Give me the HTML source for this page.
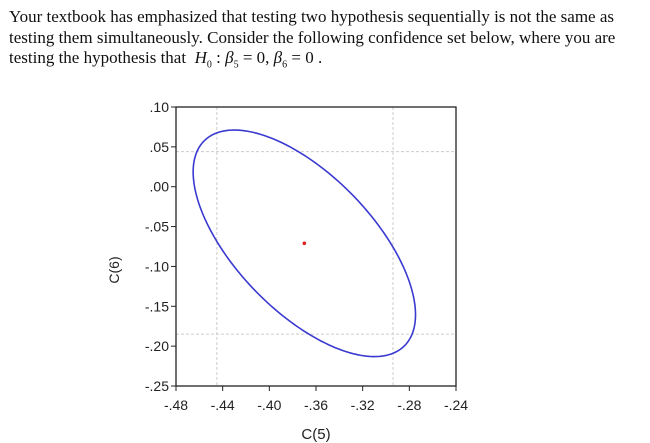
<!DOCTYPE html>
<html><head><meta charset="utf-8">
<style>
body{margin:0;background:#fff;width:650px;height:443px;overflow:hidden;position:relative}
.txt{position:absolute;left:9px;top:7px;font-family:"Liberation Serif",serif;font-size:17px;line-height:20.5px;color:#111;white-space:nowrap}
svg{position:absolute;left:0;top:0}
</style></head><body>
<div class="txt">Your textbook has emphasized that testing two hypothesis sequentially is not the same as<br>testing them simultaneously. Consider the following confidence set below, where you are<br>testing the hypothesis that &nbsp;<i>H</i><sub style="font-size:10px">0</sub> : <i>β</i><sub style="font-size:10px">5</sub> = 0, <i>β</i><sub style="font-size:10px">6</sub> = 0 .</div>
<svg id="chart" width="650" height="443"></svg>
<script>
const xTicks=[-0.48,-0.44,-0.40,-0.36,-0.32,-0.28,-0.24];
const xTickLabels=["-.48","-.44","-.40","-.36","-.32","-.28","-.24"];
const yTicks=[0.10,0.05,0.00,-0.05,-0.10,-0.15,-0.20,-0.25];
const yTickLabels=[".10",".05",".00","-.05","-.10","-.15","-.20","-.25"];
const center=[-0.37,-0.071];
const halfWidths=[0.0953,0.1421];
const correlation=[-0.63];
const gridX=[-0.445,-0.294];
const gridY=[0.044,-0.185];
const L=176,R=456,T=107,B=386;
const sx=v=>L+(v+0.48)/0.24*(R-L);
const sy=v=>T+(0.10-v)/0.35*(B-T);
const svg=document.getElementById('chart');
const NS='http://www.w3.org/2000/svg';
function mk(t,a){const e=document.createElementNS(NS,t);for(const k in a)e.setAttribute(k,a[k]);svg.appendChild(e);return e;}
gridX.forEach(v=>{const g=mk('line',{x1:sx(v),x2:sx(v),y1:T,y2:B,stroke:'#ccc','stroke-dasharray':'3,2','stroke-width':1});

});
gridY.forEach(v=>{const g=mk('line',{x1:L,x2:R,y1:sy(v),y2:sy(v),stroke:'#ccc','stroke-dasharray':'3,2','stroke-width':1});

});
const box=mk('rect',{x:L,y:T,width:R-L,height:B-T,fill:'none',stroke:'#222','stroke-width':1.3});


xTicks.forEach((v,i)=>{mk('line',{x1:sx(v),x2:sx(v),y1:B,y2:B+5,stroke:'#222'});
const t=mk('text',{x:sx(v),y:410,'text-anchor':'middle','font-family':'Liberation Sans, sans-serif','font-size':14,fill:'#222'});
t.textContent=xTickLabels[i];

});
yTicks.forEach((v,i)=>{mk('line',{x1:L-5,x2:L,y1:sy(v),y2:sy(v),stroke:'#222'});
const t=mk('text',{x:L-7,y:sy(v)+5,'text-anchor':'end','font-family':'Liberation Sans, sans-serif','font-size':14,fill:'#222'});
t.textContent=yTickLabels[i];

});
const phi=Math.acos(correlation[0]);
let d='';
for(let k=0;k<=200;k++){const t=k/200*2*Math.PI;
const x=center[0]+halfWidths[0]*Math.cos(t),y=center[1]+halfWidths[1]*Math.cos(t+phi);
d+=(k?'L':'M')+sx(x).toFixed(2)+','+sy(y).toFixed(2);}
const el=mk('path',{d:d+'Z',fill:'none',stroke:'#3a3ad0','stroke-width':1.6});


const c=mk('circle',{cx:sx(center[0]),cy:sy(center[1]),r:1.8,fill:'#e02020'});


const xt=mk('text',{x:316,y:439,'text-anchor':'middle','font-family':'Liberation Sans, sans-serif','font-size':15,fill:'#222'});
xt.textContent='C(5)';


const yt=mk('text',{x:0,y:0,'text-anchor':'middle','font-family':'Liberation Sans, sans-serif','font-size':14,fill:'#222',transform:'translate(119,270) rotate(-90)'});
yt.textContent='C(6)';


</script>
</body></html>
